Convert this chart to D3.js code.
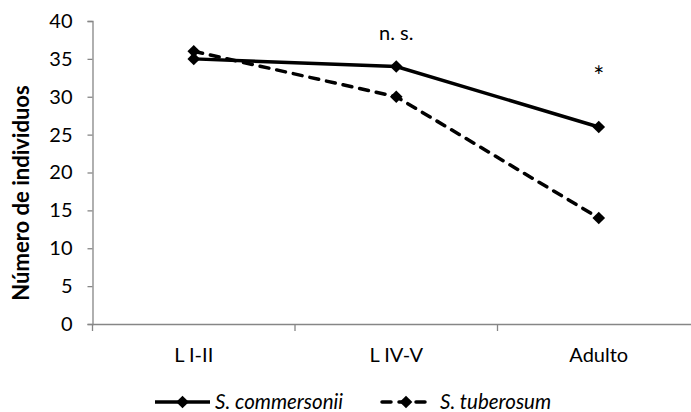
<!DOCTYPE html>
<html lang="es">
<head>
<meta charset="UTF-8">
<title>Número de individuos</title>
<script src="https://d3js.org/d3.v7.min.js"></script>
<style>
  body { margin: 0; background: #fff; }
  svg { display: block; font-family: Lato, "Open Sans", sans-serif; }
</style>
</head>
<body>
<svg width="691" height="412"></svg>
<script>
// datos
const categories = ["L I-II", "L IV-V", "Adulto"];
const commersonii = [35, 34, 26];
const tuberosum = [36, 30, 14];
const yTicks = [0, 5, 10, 15, 20, 25, 30, 35, 40];
const seriesNames = ["S. commersonii", "S. tuberosum"];
const notes = ["", "n. s.", "*"];

const svg = d3.select("svg");
const axisColor = "#868686";

const x = d3.scaleBand().domain(categories).range([92.5, 700]);
const y = d3.scaleLinear().domain([0, 40]).range([324, 21]);
const cx = c => x(c) + x.bandwidth() / 2;

// eje y
const yAxis = svg.append("g")
    .attr("transform", "translate(92.5,0)")
    .call(d3.axisLeft(y).tickValues(yTicks).tickSize(5).tickPadding(15));
yAxis.select(".domain").attr("stroke", axisColor).attr("stroke-width", 1.3);
yAxis.selectAll(".tick line").attr("stroke", axisColor).attr("stroke-width", 1.3);
yAxis.selectAll("text").attr("font-size", 20).attr("fill", "#000")
    .attr("font-family", "Lato, sans-serif");

// eje x
const xAxis = svg.append("g")
    .attr("transform", "translate(0,324)")
    .call(d3.axisBottom(x).tickSize(0).tickPadding(24));
xAxis.select(".domain").attr("stroke", axisColor).attr("stroke-width", 1.3);
xAxis.selectAll("text").attr("font-size", 20).attr("fill", "#000")
    .attr("font-family", "Lato, sans-serif");
xAxis.selectAll(".sep")
    .data(categories)
    .join("line")
    .attr("class", "sep")
    .attr("x1", d => x(d)).attr("x2", d => x(d))
    .attr("y1", 0).attr("y2", 7)
    .attr("stroke", axisColor).attr("stroke-width", 1.3);

// título eje y
svg.append("text")
    .attr("transform", "translate(29,193) rotate(-90)")
    .attr("text-anchor", "middle")
    .attr("font-size", 22)
    .attr("font-weight", "bold")
    .text("Número de individuos");

const series = [
    { name: seriesNames[0], values: commersonii, dash: null },
    { name: seriesNames[1], values: tuberosum, dash: "9,8" }
];

const line = d3.line()
    .x((d, i) => cx(categories[i]))
    .y(d => y(d));

const diamond = d3.symbol(d3.symbolSquare, 80);

series.forEach(s => {
    svg.append("path")
        .attr("d", line(s.values))
        .attr("fill", "none")
        .attr("stroke", "#000")
        .attr("stroke-width", 3.5)
        .attr("stroke-linecap", s.dash ? "round" : "butt")
        .attr("stroke-dasharray", s.dash);
    svg.selectAll(null)
        .data(s.values)
        .join("path")
        .attr("d", diamond)
        .attr("transform", (d, i) => `translate(${cx(categories[i])},${y(d)}) rotate(45)`)
        .attr("fill", "#000");
});

// anotaciones
svg.selectAll(".note")
    .data(notes)
    .join("text")
    .attr("class", "note")
    .attr("x", (d, i) => cx(categories[i]))
    .attr("y", (d, i) => i === 1 ? 40 : 86)
    .attr("text-anchor", "middle")
    .attr("font-size", (d, i) => i === 1 ? 20 : 26)
    .attr("fill", "#000")
    .text(d => d);

// leyenda
const legendPos = [155, 382];
const legendLen = [55, 48];
series.forEach((s, i) => {
    const g = svg.append("g").attr("transform", `translate(${legendPos[i]},402)`);
    g.append("line")
        .attr("x1", 0).attr("x2", legendLen[i])
        .attr("stroke", "#000").attr("stroke-width", 3.5)
        .attr("stroke-linecap", s.dash ? "round" : "butt")
        .attr("stroke-dasharray", s.dash);
    g.append("path")
        .attr("d", diamond)
        .attr("transform", `translate(${legendLen[i] / 2},0) rotate(45)`);
    g.append("text")
        .attr("x", legendLen[i] + 5 + (i ? 5 : 0))
        .attr("y", 7)
        .attr("font-size", 20.5)
        .attr("font-style", "italic")
        .text(s.name);
});
</script>
</body>
</html>
